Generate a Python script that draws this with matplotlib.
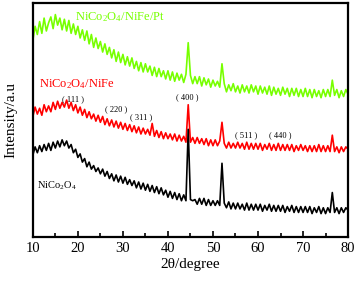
import numpy as np
import matplotlib
matplotlib.use('Agg')
import matplotlib.pyplot as plt

plt.rcParams['font.family'] = 'Liberation Serif'
plt.rcParams['mathtext.fontset'] = 'custom'
plt.rcParams['mathtext.rm'] = 'Liberation Serif'
plt.rcParams['mathtext.it'] = 'Liberation Serif'

# 2theta grid, 0.5 degree steps from 10 to 80
two_theta = np.arange(10, 80.01, 0.5)

pt_vals = [
    84, 90, 86.5, 92, 87, 93.5, 88, 91.5, 94, 89,
    95, 90.5, 93.5, 88.5, 93, 88, 92.5, 87, 91, 86.5,
    90, 85, 88.5, 84, 88, 82.5, 86.5, 81, 85, 80.5,
    83.5, 79, 82.5, 78, 81, 76.5, 80, 75, 79, 74.5,
    78, 73.5, 77, 73, 76.5, 72, 75, 71, 74.5, 70.5,
    74, 70.5, 73, 69, 72.5, 68.5, 72, 68.5, 71, 67.5,
    71, 67, 70.5, 66.5, 70, 67, 69.5, 66, 69.5, 83,
    69, 65.5, 68.5, 65.5, 68.5, 64.5, 68, 65, 67.5, 64,
    67, 64.5, 66.5, 64, 74, 65.5, 62, 65, 62.5, 65.5,
    62, 64.5, 61.5, 65, 62, 64.5, 61.5, 65, 62, 64.5,
    61, 64.5, 61.5, 64, 61, 64.5, 60.5, 64, 61, 63.5,
    60.5, 64, 61, 63.5, 60, 63.5, 60.5, 63.5, 60, 63,
    60, 63.5, 60, 63, 59.5, 63, 60, 62.5, 59.5, 63,
    60, 63, 60, 67, 60.5, 63, 59.5, 62.5, 60, 63,
    61,
]

nife_vals = [
    51.5, 55.5, 52.5, 55, 52, 56.5, 53.5, 56, 53.5, 57.5,
    54.5, 58, 55, 57.5, 55.5, 58.5, 55, 57.5, 54, 56.5,
    53, 55.5, 52, 54.5, 51, 53.5, 50.5, 52.5, 49.5, 52,
    49, 51.5, 48, 50.5, 47.5, 50, 47, 49.5, 46.5, 49,
    46, 48.5, 45.5, 48, 45, 47.5, 44.5, 47, 44, 46.5,
    44, 46, 43.5, 48.5, 43, 45.5, 42.5, 45, 42, 44.5,
    42, 44, 41.5, 44, 41, 43.5, 41, 43, 40.5, 56.5,
    40.5, 42.5, 40, 42.5, 40, 42, 39.5, 42, 39, 41.5,
    39, 41.5, 39, 41, 49, 40, 38, 40.5, 38, 40,
    38, 40.5, 38, 40, 37.5, 40.5, 37.5, 40, 37.5, 40,
    37.5, 40, 37, 39.5, 37.5, 40, 37, 39.5, 37, 40,
    37, 39.5, 37, 39.5, 37, 39.5, 36.5, 39, 37, 39.5,
    37, 39, 36.5, 39, 36.5, 39, 36.5, 39.5, 36.5, 39,
    36.5, 39, 36.5, 43.5, 36.5, 38.5, 36, 38.5, 36.5, 38.5,
    37.5,
]

nco_vals = [
    35, 38.5, 36, 39, 36.5, 39.5, 37, 40, 37, 40.5,
    38, 41, 38.5, 41.5, 39, 41, 38, 39.5, 36, 37.5,
    34, 35.5, 32, 33.5, 30, 32, 29, 30.5, 28, 29.5,
    27, 29, 26, 28, 25, 27, 24, 26.5, 23.5, 26,
    23, 25.5, 22.5, 24.5, 22, 24, 21, 23.5, 20.5, 23,
    20, 22.5, 19.5, 22, 19, 21.5, 18.5, 21, 18, 20,
    17, 19.5, 16.5, 19, 16, 18.5, 15.5, 18, 15.5, 46,
    16, 15.5, 16, 14, 16.5, 14, 16.5, 13.5, 16, 13.5,
    15.5, 13.5, 15.5, 13.5, 31.5, 14.5, 12.5, 15, 12, 14.5,
    12, 14.5, 12, 14, 11.5, 14.5, 11.5, 14, 11.5, 14,
    11.5, 14, 11, 13.5, 11.5, 14, 11, 13.5, 11, 13.5,
    11, 13.5, 10.5, 13, 11, 13.5, 10.5, 13, 10.5, 13,
    10.5, 13, 10.5, 13, 10, 12.5, 10.5, 13, 10, 12.5,
    10, 12.5, 10.5, 19, 10.5, 12.5, 10, 12.5, 10.5, 12.5,
    11.5,
]

hkl_labels = ['( 111 )', '( 220 )', '( 311 )', '( 400 )', '( 511 )', '( 440 )']
hkl_x = [19.0, 28.5, 34.0, 44.2, 57.3, 65.0]
hkl_y = [59.0, 54.7, 51.3, 59.8, 43.6, 43.6]

fig = plt.figure(figsize=(3.57, 2.88), dpi=100)
ax = fig.add_axes([0.092, 0.177, 0.883, 0.813])

ax.plot(two_theta, pt_vals, color='#77ff00', lw=1.2, zorder=2)
ax.plot(two_theta, nife_vals, color='#ff0000', lw=1.2, zorder=2)
ax.plot(two_theta, nco_vals, color='black', lw=1.2, zorder=3)

ax.text(19.3, 94, r'NiCo$_2$O$_4$/NiFe/Pt', color='#77ff00', fontsize=9, va='center')
ax.text(11.3, 65.5, r'NiCo$_2$O$_4$/NiFe', color='#ff0000', fontsize=9, va='center')
ax.text(11.0, 22, r'NiCo$_2$O$_4$', color='black', fontsize=7.5, va='center')
for lab, hx, hy in zip(hkl_labels, hkl_x, hkl_y):
    ax.text(hx, hy, lab, fontsize=6, ha='center', va='center')

ax.set_xlim(10, 80)
ax.set_ylim(0, 100)
ax.set_xticks(range(10, 81, 10))
ax.set_xticks(range(15, 80, 10), minor=True)
ax.set_yticks([])
ax.tick_params(axis='x', which='both', direction='in', labelsize=10.5, width=1.2)
ax.tick_params(axis='x', which='major', length=4)
ax.tick_params(axis='x', which='minor', length=3)
for s in ax.spines.values():
    s.set_linewidth(1.6)

ax.set_xlabel('2θ/degree', fontsize=11, labelpad=2)
ax.set_ylabel('Intensity/a.u', fontsize=11, labelpad=11)

fig.savefig('out.png', dpi=100)
